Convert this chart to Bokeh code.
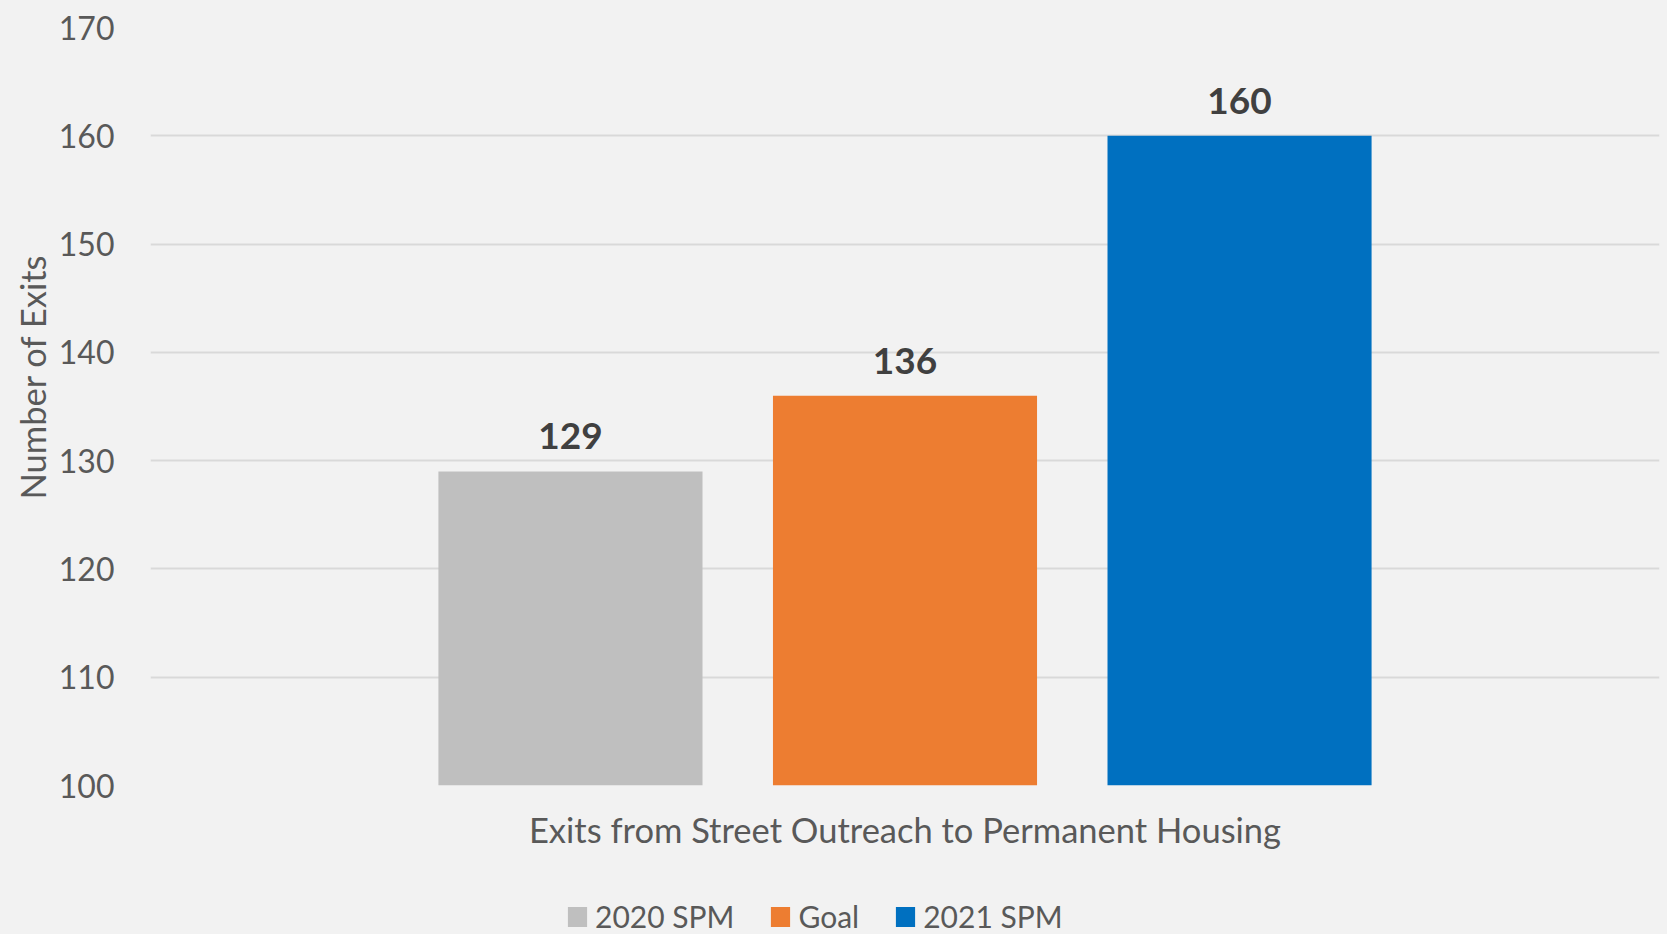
from bokeh.plotting import figure
from bokeh.layouts import column
from bokeh.models import (ColumnDataSource, FactorRange, Range1d, FixedTicker,
                          Legend, LegendItem, Title)
from bokeh.transform import dodge
from bokeh.embed import file_html
from bokeh.resources import INLINE
from bokeh.core.properties import value

categories = ["Exits from Street Outreach to Permanent Housing"]
series = ["2020 SPM", "Goal", "2021 SPM"]
values = [129, 136, 160]
colors = ["#BFBFBF", "#ED7D31", "#0070C0"]
y_ticks = [100, 110, 120, 130, 140, 150, 160, 170]

FONT = "Lato"
TEXT = "#595959"
BG = "#F2F2F2"

p = figure(width=1667, height=880,
           x_range=FactorRange(factors=categories),
           y_range=Range1d(100, 170),
           output_backend="svg", toolbar_location=None,
           min_border_left=150, min_border_right=8,
           min_border_top=27, min_border_bottom=95,
           background_fill_color=BG, border_fill_color=BG,
           outline_line_color=None)

step = 0.2217
bar_w = 0.175
for i, s in enumerate(series):
    off = (i - 1) * step
    src = ColumnDataSource(dict(cat=categories, val=[values[i]],
                                label=[str(values[i])]))
    p.vbar(x=dodge("cat", off, range=p.x_range), top="val", bottom=100,
           width=bar_w, source=src, fill_color=colors[i], line_color=None)
    p.text(x=dodge("cat", off, range=p.x_range), y="val", text="label",
           source=src, text_align="center", text_baseline="alphabetic",
           y_offset=-35, text_font=value(FONT), text_font_style="bold",
           text_font_size="37px", text_color="#404040")

# axes
xa = p.xaxis[0]
xa.axis_line_color = None
xa.major_tick_line_color = None
xa.minor_tick_line_color = None
xa.major_label_text_font = FONT
xa.major_label_text_font_size = "34.5px"
xa.major_label_text_color = TEXT
xa.major_label_standoff = 17

ya = p.yaxis[0]
ya.ticker = FixedTicker(ticks=y_ticks)
ya.axis_line_color = None
ya.major_tick_line_color = None
ya.minor_tick_line_color = None
ya.major_label_text_font = FONT
ya.major_label_text_font_size = "32px"
ya.major_label_text_color = TEXT
ya.major_label_standoff = 30

p.xgrid.visible = False
p.ygrid.grid_line_color = "#D9D9D9"
p.ygrid.grid_line_width = 2

t = Title(text="Number of Exits", align="left", offset=286,
          text_font=FONT, text_font_size="34.5px", text_font_style="normal",
          text_color=TEXT, standoff=6)
p.add_layout(t, "left")

# legend strip below the chart (swatch renderers have zero size)
lg = figure(width=1667, height=54, output_backend="svg", toolbar_location=None,
            x_axis_type=None, y_axis_type=None,
            x_range=FactorRange(factors=series), y_range=Range1d(0, 1),
            min_border_left=0, min_border_right=0,
            min_border_top=0, min_border_bottom=0,
            background_fill_color=BG, border_fill_color=BG,
            outline_line_color=None)
lg.xgrid.visible = False
lg.ygrid.visible = False
items = []
for i, s in enumerate(series):
    src = ColumnDataSource(dict(cat=[s], val=[values[i]]))
    r = lg.vbar(x="cat", top="val", bottom="val", width=0, source=src,
                fill_color=colors[i], line_color=None)
    items.append(LegendItem(label=s, renderers=[r]))

legend = Legend(items=items, orientation="horizontal", location=(415, 0),
                glyph_width=24, glyph_height=25, label_standoff=6, spacing=34,
                padding=0, margin=0, border_line_color=None,
                background_fill_alpha=0, label_text_font=FONT,
                label_text_font_size="30px", label_text_color=TEXT)
lg.add_layout(legend)

layout = column(p, lg, spacing=0)

html = file_html(layout, INLINE)
html = html.replace("</head>",
                    "<style>html,body{background:#F2F2F2;overflow:hidden;}</style></head>", 1)
open("out.html", "w").write(html)
